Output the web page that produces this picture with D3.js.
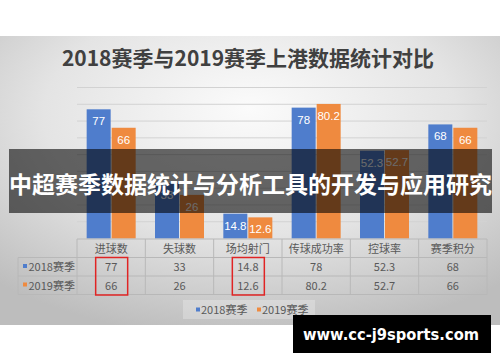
<!DOCTYPE html>
<html>
<head>
<meta charset="utf-8">
<script src="https://cdn.jsdelivr.net/npm/d3@7/dist/d3.min.js"></script>
<style>
  html, body { margin: 0; padding: 0; background: #fff; }
  svg { display: block; }
</style>
</head>
<body>
<svg id="chart" width="500" height="362"></svg>
<script>
// Season comparison data
const categories = ["进球数", "失球数", "场均射门", "传球成功率", "控球率", "赛季积分"];
const seriesNames = ["2018赛季", "2019赛季"];
const values2018 = [77, 33, 14.8, 78, 52.3, 68];
const values2019 = [66, 26, 12.6, 80.2, 52.7, 66];
const yTicks = [10, 20, 30, 40, 50, 60, 70, 80, 90];
const highlighted = ["进球数", "场均射门"];

const title = "2018赛季与2019赛季上港数据统计对比";
const bannerText = "中超赛季数据统计与分析工具的开发与应用研究";
const siteText = "www.cc-j9sports.com";

const colors = ["#4f7dcc", "#ef8a3f"];
const cjk = "'Noto Sans CJK SC', 'Noto Sans', sans-serif";

const svg = d3.select("#chart");
const defs = svg.append("defs");

// soft radial background of the chart panel
const grad = defs.append("radialGradient")
  .attr("id", "bg").attr("cx", "50%").attr("cy", "30%").attr("r", "75%")
  .attr("fx", "50%").attr("fy", "25%");
grad.append("stop").attr("offset", "0%").attr("stop-color", "#fbfbfb");
grad.append("stop").attr("offset", "55%").attr("stop-color", "#e4e4e4");
grad.append("stop").attr("offset", "100%").attr("stop-color", "#bdbdbd");

svg.append("rect").attr("x", 0).attr("y", 36).attr("width", 500).attr("height", 289)
  .attr("fill", "url(#bg)");

// title
svg.append("text")
  .attr("x", 248).attr("y", 66)
  .attr("text-anchor", "middle")
  .attr("font-family", cjk).attr("font-weight", "bold").attr("font-size", 21)
  .attr("fill", "#404040")
  .text(title);

// scales
const x = d3.scaleBand().domain(categories).range([77, 487]).paddingInner(0).paddingOuter(0);
const y = d3.scaleLinear().domain([0, 90]).range([238.5, 87.5]);
const barW = 25;

// gridlines
svg.append("g").selectAll("line").data(yTicks).join("line")
  .attr("x1", 77).attr("x2", 487)
  .attr("y1", d => y(d)).attr("y2", d => y(d))
  .attr("stroke", "#d2d2d2").attr("stroke-width", 1);

// bars
const series = [values2018, values2019];
const gBars = svg.append("g");
series.forEach((vals, si) => {
  const g = gBars.append("g");
  const xc = (c) => x(c) + x.bandwidth() / 2 - barW + si * barW;
  g.selectAll("rect").data(categories).join("rect")
    .attr("x", c => xc(c) + 0.5)
    .attr("width", barW - 1)
    .attr("y", (c, i) => y(vals[i]))
    .attr("height", (c, i) => y(0) - y(vals[i]))
    .attr("fill", colors[si]);
  g.selectAll("text").data(categories).join("text")
    .attr("x", c => xc(c) + barW / 2)
    .attr("y", (c, i) => y(vals[i]) + 16)
    .attr("text-anchor", "middle")
    .attr("font-family", "'Liberation Sans', Arial, sans-serif")
    .attr("font-size", 11.5)
    .attr("fill", "#ffffff")
    .text((c, i) => vals[i]);
});

// data table under the axis
const rowTop = [257.5, 276];
const rowH = 18.5;
const tableLeft = 18, tableRight = 487, headTop = 239;
const gT = svg.append("g").attr("stroke", "#b8b8b8").attr("stroke-width", 1);
// horizontal rules
gT.append("line").attr("x1", 77).attr("x2", tableRight).attr("y1", headTop).attr("y2", headTop);
[rowTop[0], rowTop[1], rowTop[1] + rowH].forEach(yy =>
  gT.append("line").attr("x1", tableLeft).attr("x2", tableRight).attr("y1", yy).attr("y2", yy));
// vertical rules
gT.append("line").attr("x1", tableLeft).attr("x2", tableLeft).attr("y1", rowTop[0]).attr("y2", rowTop[1] + rowH);
const bounds = categories.map(c => x(c)).concat([x(categories[categories.length - 1]) + x.bandwidth()]);
gT.selectAll("line.v").data(bounds).join("line").attr("class", "v")
  .attr("x1", d => d).attr("x2", d => d)
  .attr("y1", headTop).attr("y2", rowTop[1] + rowH);

const tFont = "'Noto Sans CJK SC', 'Liberation Sans', sans-serif";
svg.append("g").selectAll("text").data(categories).join("text")
  .attr("x", c => x(c) + x.bandwidth() / 2).attr("y", 252.5)
  .attr("text-anchor", "middle").attr("font-family", tFont).attr("font-size", 11)
  .attr("fill", "#595959").text(c => c);

series.forEach((vals, si) => {
  const yy = rowTop[si] + 13.5;
  const g = svg.append("g");
  g.selectAll("text").data(categories).join("text")
    .attr("x", c => x(c) + x.bandwidth() / 2).attr("y", yy)
    .attr("text-anchor", "middle").attr("font-family", tFont).attr("font-size", 11)
    .attr("fill", "#595959").text((c, i) => vals[i]);
  g.append("rect").attr("x", 23).attr("y", yy - 7).attr("width", 4).attr("height", 4)
    .attr("fill", colors[si]);
  g.append("text").attr("x", 28.5).attr("y", yy)
    .attr("font-family", tFont).attr("font-size", 11).attr("fill", "#595959")
    .text(seriesNames[si]);
});

// red frames round the highlighted columns
svg.append("g").selectAll("rect").data(highlighted).join("rect")
  .attr("x", c => x(c) + x.bandwidth() / 2 - 15.5)
  .attr("y", rowTop[0])
  .attr("width", 32).attr("height", rowH * 2 + 0.5)
  .attr("fill", "none").attr("stroke", "#e02424").attr("stroke-width", 1.5);

// legend
const gL = svg.append("g");
gL.append("rect").attr("x", 183).attr("y", 300).attr("width", 132).attr("height", 19)
  .attr("fill", "#ffffff").attr("opacity", 0.25);
const legX = [196, 257];
seriesNames.forEach((n, i) => {
  gL.append("rect").attr("x", legX[i]).attr("y", 307.5).attr("width", 4).attr("height", 4).attr("fill", colors[i]);
  gL.append("text").attr("x", legX[i] + 5).attr("y", 314)
    .attr("font-family", tFont).attr("font-size", 11).attr("fill", "#595959").text(n);
});

// dark caption banner across the chart
svg.append("rect").attr("x", 9).attr("y", 149).attr("width", 483).attr("height", 64)
  .attr("fill", "#000").attr("opacity", 0.58);
svg.append("text").attr("x", 250.5).attr("y", 192.5)
  .attr("text-anchor", "middle")
  .attr("font-family", cjk).attr("font-weight", "bold").attr("font-size", 23)
  .attr("fill", "#ffffff")
  .text(bannerText);

// site tag
svg.append("rect").attr("x", 293).attr("y", 315).attr("width", 198).attr("height", 38).attr("fill", "#000");
svg.append("text").attr("x", 303).attr("y", 339.5)
  .attr("font-family", "'DejaVu Sans', Verdana, sans-serif").attr("font-weight", "bold")
  .attr("font-size", 15).attr("textLength", 176).attr("lengthAdjust", "spacingAndGlyphs")
  .attr("fill", "#ffffff").text(siteText);
</script>
</body>
</html>
